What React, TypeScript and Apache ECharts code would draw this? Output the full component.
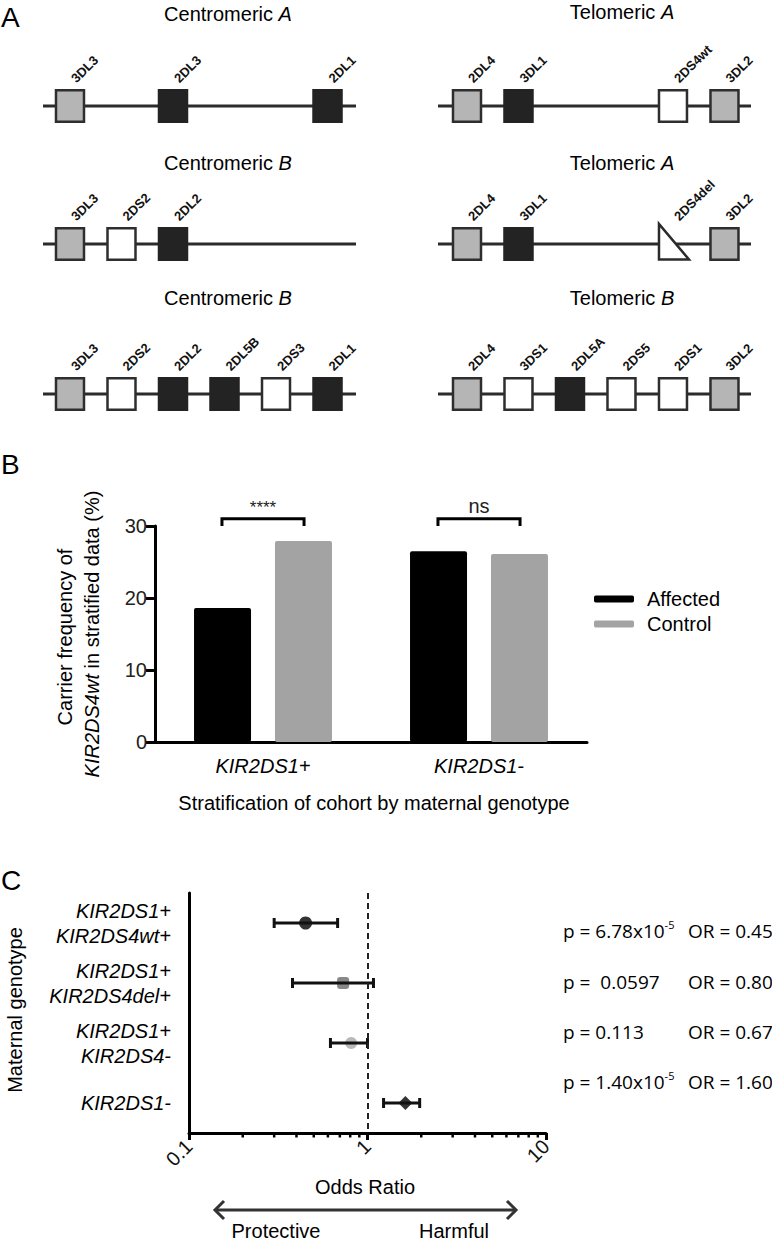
import React, { useEffect, useRef } from 'react';
import * as echarts from 'echarts';

const FONT = '"Liberation Sans", Arial, Helvetica, sans-serif';
const FONT2 = '"Open Sans", "Liberation Sans", sans-serif';

// ---------- Panel A data ----------
const cenA_genes = ['3DL3', '2DL3', '2DL1'];
const cenA_slots = [0, 2, 5];
const cenA_kinds = ['frame', 'inhib', 'inhib'];
const cenB1_genes = ['3DL3', '2DS2', '2DL2'];
const cenB1_slots = [0, 1, 2];
const cenB1_kinds = ['frame', 'act', 'inhib'];
const cenB2_genes = ['3DL3', '2DS2', '2DL2', '2DL5B', '2DS3', '2DL1'];
const cenB2_slots = [0, 1, 2, 3, 4, 5];
const cenB2_kinds = ['frame', 'act', 'inhib', 'inhib', 'act', 'inhib'];
const telA1_genes = ['2DL4', '3DL1', '2DS4wt', '3DL2'];
const telA1_slots = [0, 1, 4, 5];
const telA1_kinds = ['frame', 'inhib', 'act', 'frame'];
const telA2_genes = ['2DL4', '3DL1', '2DS4del', '3DL2'];
const telA2_slots = [0, 1, 4, 5];
const telA2_kinds = ['frame', 'inhib', 'del', 'frame'];
const telB_genes = ['2DL4', '3DS1', '2DL5A', '2DS5', '2DS1', '3DL2'];
const telB_slots = [0, 1, 2, 3, 4, 5];
const telB_kinds = ['frame', 'act', 'inhib', 'act', 'act', 'frame'];
const hapNames = ['Centromeric', 'Centromeric', 'Centromeric', 'Telomeric', 'Telomeric', 'Telomeric'];
const hapVariants = ['A', 'B', 'B', 'A', 'A', 'B'];

// ---------- Panel B data ----------
const bCategories = ['KIR2DS1+', 'KIR2DS1-'];
const affectedVals = [18.6, 26.5];
const controlVals = [27.9, 26.1];
const sigLabels = ['****', 'ns'];
const bTicks = [0, 10, 20, 30];

// ---------- Panel C data ----------
const cRows = ['KIR2DS1+\nKIR2DS4wt+', 'KIR2DS1+\nKIR2DS4del+', 'KIR2DS1+\nKIR2DS4-', 'KIR2DS1-'];
const orPoints = [0.45, 0.73, 0.81, 1.63];
const ciLow = [0.30, 0.38, 0.62, 1.23];
const ciHigh = [0.68, 1.08, 1.0, 1.96];
const orSymbols = ['circle', 'roundRect', 'circle', 'diamond'];
const orColors = ['#000000', '#6a6a6a', '#a8a8a8', '#000000'];
const orSizes = [13, 12, 12, 14];
const minorTickVals = [0.2, 0.3, 0.4, 0.5, 0.6, 0.7, 0.8, 0.9, 2, 3, 4, 5, 6, 7, 8, 9];
const pLabels = ['p = 6.78x10', 'p =  0.0597', 'p = 0.113', 'p = 1.40x10'];
const pSups = ['-5', '', '', '-5'];
const orLabels = ['OR = 0.45', 'OR = 0.80', 'OR = 0.67', 'OR = 1.60'];

// ---------- layout ----------
const rowLineY = [106, 244, 394];
const titleY = [[14, 163, 298], [12, 163, 298]];
const titleX = [228, 622];
const sideLeft = [43, 438];
const sideMin = [-0.524, -0.563];
const sideMax = [5.553, 5.515];

function txt(x: number, y: number, text: string, o: any = {}) {
  return {
    type: 'text',
    x,
    y,
    rotation: o.rotation || 0,
    z: 10,
    style: {
      text,
      fontSize: o.fontSize || 20,
      fontFamily: o.fontFamily || FONT,
      fontStyle: o.fontStyle || 'normal',
      fontWeight: o.fontWeight || 'normal',
      fill: o.fill || '#000',
      textAlign: o.align || 'center',
      align: o.align || 'center',
      textVerticalAlign: o.valign || 'middle',
      verticalAlign: o.valign || 'middle',
      rich: o.rich,
    },
  };
}

function buildOption() {
  const haps = [
    { genes: cenA_genes, slots: cenA_slots, kinds: cenA_kinds, side: 0, row: 0 },
    { genes: cenB1_genes, slots: cenB1_slots, kinds: cenB1_kinds, side: 0, row: 1 },
    { genes: cenB2_genes, slots: cenB2_slots, kinds: cenB2_kinds, side: 0, row: 2 },
    { genes: telA1_genes, slots: telA1_slots, kinds: telA1_kinds, side: 1, row: 0 },
    { genes: telA2_genes, slots: telA2_slots, kinds: telA2_kinds, side: 1, row: 1 },
    { genes: telB_genes, slots: telB_slots, kinds: telB_kinds, side: 1, row: 2 },
  ];

  const grid: any[] = [];
  const xAxis: any[] = [];
  const yAxis: any[] = [];
  const series: any[] = [];
  const graphic: any[] = [];

  haps.forEach((h, i) => {
    grid.push({ left: sideLeft[h.side], top: rowLineY[h.row] - 17, width: 313, height: 34 });
    xAxis.push({ gridIndex: i, type: 'value', min: sideMin[h.side], max: sideMax[h.side], show: false });
    yAxis.push({ gridIndex: i, type: 'value', min: 0, max: 1, show: false });
    series.push({
      type: 'custom',
      xAxisIndex: i,
      yAxisIndex: i,
      silent: true,
      z: 1,
      data: [[0, 0.5]],
      encode: { x: 0, y: 1 },
      renderItem: (params: any, api: any) => {
        const cs = params.coordSys;
        const c = api.coord([0, 0.5]);
        return {
          type: 'line',
          shape: { x1: cs.x, y1: c[1], x2: cs.x + cs.width, y2: c[1] },
          style: { stroke: '#2b2b2b', lineWidth: 3 },
        };
      },
    });
    series.push({
      type: 'custom',
      xAxisIndex: i,
      yAxisIndex: i,
      silent: true,
      z: 2,
      data: h.slots.map((s, j) => [s, 0.5, j]),
      encode: { x: 0, y: 1 },
      renderItem: (params: any, api: any) => {
        const j = api.value(2);
        const kind = h.kinds[j];
        const c = api.coord([api.value(0), api.value(1)]);
        const hh = api.size([0, 1])[1];
        const top = c[1] - hh / 2;
        const bottom = c[1] + hh / 2;
        const w = 28;
        const children: any[] = [];
        if (kind === 'del') {
          children.push({
            type: 'polygon',
            shape: { points: [[c[0] - w / 2, top - 3], [c[0] - w / 2, bottom - 1.5], [c[0] + w / 2 + 2, bottom - 1.5]] },
            style: { fill: '#fff', stroke: '#2b2b2b', lineWidth: 2.5 },
          });
        } else {
          const fill = kind === 'frame' ? '#b5b5b5' : kind === 'inhib' ? '#232323' : '#ffffff';
          const stroke = kind === 'inhib' ? '#232323' : '#2e2e2e';
          children.push({
            type: 'rect',
            shape: { x: c[0] - w / 2, y: top + 1.25, width: w, height: hh - 2.5 },
            style: { fill, stroke, lineWidth: 2.5 },
          });
        }
        children.push({
          type: 'text',
          x: c[0] + 8,
          y: top - 4,
          rotation: Math.PI / 4,
          style: {
            text: h.genes[j],
            fontSize: 13,
            fontWeight: 'bold',
            fontFamily: FONT,
            fill: '#111',
            textAlign: 'left',
            align: 'left',
            textVerticalAlign: 'bottom',
            verticalAlign: 'bottom',
          },
        });
        return { type: 'group', children };
      },
    });
    graphic.push(
      txt(titleX[h.side], titleY[h.side][h.row], `{n|${hapNames[i]} }{i|${hapVariants[i]}}`, {
        rich: {
          n: { fontSize: 20, fontFamily: FONT, fill: '#000' },
          i: { fontSize: 20, fontFamily: FONT, fontStyle: 'italic', fill: '#000' },
        },
      })
    );
  });

  // ---------- Panel B ----------
  grid.push({ left: 155, top: 526, width: 432, height: 216 });
  xAxis.push({
    gridIndex: 6,
    type: 'category',
    data: bCategories,
    axisLine: { show: true, onZero: false, lineStyle: { color: '#000', width: 3 } },
    axisTick: { alignWithLabel: true, length: 11, lineStyle: { color: '#000', width: 3 } },
    axisLabel: { fontSize: 20, fontStyle: 'italic', color: '#000', margin: 14, fontFamily: FONT },
  });
  yAxis.push({
    gridIndex: 6,
    type: 'value',
    min: bTicks[0],
    max: bTicks[bTicks.length - 1],
    interval: bTicks[1] - bTicks[0],
    axisLine: { show: true, onZero: false, lineStyle: { color: '#000', width: 3 } },
    axisTick: { show: true, length: 9, lineStyle: { color: '#000', width: 3 } },
    splitLine: { show: false },
    axisLabel: { fontSize: 20, color: '#222', margin: 8, fontFamily: FONT },
  });
  series.push({
    type: 'bar',
    name: 'Affected',
    xAxisIndex: 6,
    yAxisIndex: 6,
    data: affectedVals,
    barWidth: 57,
    barGap: '42%',
    itemStyle: { color: '#000', borderRadius: 2 },
  });
  series.push({
    type: 'bar',
    name: 'Control',
    xAxisIndex: 6,
    yAxisIndex: 6,
    data: controlVals,
    barWidth: 57,
    barGap: '42%',
    itemStyle: { color: '#a3a3a3', borderRadius: 2 },
  });
  series.push({
    type: 'custom',
    xAxisIndex: 6,
    yAxisIndex: 6,
    silent: true,
    clip: false,
    z: 5,
    data: sigLabels.map((_, k) => [k, 31, k]),
    encode: { x: 0, y: 1 },
    renderItem: (params: any, api: any) => {
      const k = api.value(2);
      const top = api.coord([api.value(0), api.value(1)]);
      const base = api.coord([api.value(0), 30]);
      const half = api.size([1, 0])[0] * 0.19;
      return {
        type: 'group',
        children: [
          {
            type: 'polyline',
            shape: { points: [[top[0] - half, base[1]], [top[0] - half, top[1]], [top[0] + half, top[1]], [top[0] + half, base[1]]] },
            style: { stroke: '#000', lineWidth: 3, fill: 'none' },
          },
          {
            type: 'text',
            x: top[0],
            y: top[1] - 3,
            style: {
              text: sigLabels[k],
              fontSize: k === 0 ? 17 : 20,
              fontFamily: FONT,
              fill: '#222',
              textAlign: 'center',
              align: 'center',
              textVerticalAlign: 'bottom',
              verticalAlign: 'bottom',
            },
          },
        ],
      };
    },
  });

  // ---------- Panel C ----------
  grid.push({ left: 189, top: 893, width: 357, height: 240 });
  xAxis.push({
    gridIndex: 7,
    type: 'log',
    logBase: 10,
    min: 0.1,
    max: 10,
    axisLine: { show: true, onZero: false, lineStyle: { color: '#000', width: 3 } },
    axisTick: { show: true, length: 7, lineStyle: { color: '#000', width: 3 } },
    axisLabel: { rotate: 45, fontSize: 20, color: '#111', margin: 10, fontFamily: FONT },
    splitLine: { show: false },
  });
  yAxis.push({
    gridIndex: 7,
    type: 'category',
    inverse: true,
    data: cRows,
    axisLine: { show: true, onZero: false, lineStyle: { color: '#000', width: 3 } },
    axisTick: { alignWithLabel: true, length: 6, lineStyle: { color: '#000', width: 3 } },
    axisLabel: { fontSize: 20, fontStyle: 'italic', lineHeight: 25, align: 'right', margin: 18, color: '#000', fontFamily: FONT },
  });
  series.push({
    type: 'custom',
    xAxisIndex: 7,
    yAxisIndex: 7,
    silent: true,
    clip: false,
    z: 4,
    data: minorTickVals.map((v) => [v, 0]),
    encode: { x: 0, y: 1 },
    renderItem: (params: any, api: any) => {
      const cs = params.coordSys;
      const p = api.coord([api.value(0), 0]);
      const yb = cs.y + cs.height;
      return { type: 'line', shape: { x1: p[0], y1: yb, x2: p[0], y2: yb + 4.5 }, style: { stroke: '#000', lineWidth: 2.5 } };
    },
  });
  series.push({
    type: 'scatter',
    xAxisIndex: 7,
    yAxisIndex: 7,
    z: 2,
    data: orPoints.map((v, k) => ({
      value: [v, k],
      symbol: orSymbols[k],
      symbolSize: orSizes[k],
      itemStyle: { color: orColors[k] },
    })),
    markLine: {
      silent: true,
      symbol: ['none', 'none'],
      label: { show: false },
      lineStyle: { type: [6, 4], color: '#222', width: 2 },
      data: [{ xAxis: 1 }],
    },
  });
  series.push({
    type: 'custom',
    xAxisIndex: 7,
    yAxisIndex: 7,
    silent: true,
    z: 3,
    data: ciLow.map((lo, k) => [lo, ciHigh[k], k]),
    encode: { x: [0, 1], y: 2 },
    renderItem: (params: any, api: any) => {
      const a = api.coord([api.value(0), api.value(2)]);
      const b = api.coord([api.value(1), api.value(2)]);
      const st = { stroke: '#111', lineWidth: 3 };
      return {
        type: 'group',
        children: [
          { type: 'line', shape: { x1: a[0], y1: a[1], x2: b[0], y2: b[1] }, style: st },
          { type: 'line', shape: { x1: a[0], y1: a[1] - 5, x2: a[0], y2: a[1] + 5 }, style: st },
          { type: 'line', shape: { x1: b[0], y1: b[1] - 5, x2: b[0], y2: b[1] + 5 }, style: st },
        ],
      };
    },
  });

  // ---------- static texts ----------
  graphic.push(txt(1, 17, 'A', { fontSize: 28, align: 'left' }));
  graphic.push(txt(1, 464, 'B', { fontSize: 28, align: 'left' }));
  graphic.push(txt(1, 880, 'C', { fontSize: 28, align: 'left' }));
  graphic.push(txt(65, 637, 'Carrier frequency of', { rotation: Math.PI / 2 }));
  graphic.push(
    txt(92, 634, '{i|KIR2DS4wt}{n| in stratified data (%)}', {
      rotation: Math.PI / 2,
      rich: {
        i: { fontSize: 20, fontStyle: 'italic', fontFamily: FONT, fill: '#000' },
        n: { fontSize: 20, fontFamily: FONT, fill: '#000' },
      },
    })
  );
  graphic.push(txt(374, 803, 'Stratification of cohort by maternal genotype'));
  graphic.push(txt(15, 1010, 'Maternal genotype', { rotation: Math.PI / 2 }));
  graphic.push(txt(365, 1187, 'Odds Ratio'));
  graphic.push(txt(276, 1231, 'Protective'));
  graphic.push(txt(454, 1231, 'Harmful'));
  const arrowStyle = { stroke: '#333', lineWidth: 3, fill: 'none' };
  graphic.push({ type: 'line', shape: { x1: 215, y1: 1210, x2: 516, y2: 1210 }, style: arrowStyle });
  graphic.push({ type: 'polyline', shape: { points: [[224, 1201], [215, 1210], [224, 1219]] }, style: arrowStyle });
  graphic.push({ type: 'polyline', shape: { points: [[507, 1201], [516, 1210], [507, 1219]] }, style: arrowStyle });

  const pRowY = [931, 982, 1032, 1082];
  pLabels.forEach((p, k) => {
    graphic.push(
      txt(563, pRowY[k], pSups[k] ? `{b|${p}}{s|${pSups[k]}}` : `{b|${p}}`, {
        align: 'left',
        rich: {
          b: { fontSize: 19, fontFamily: FONT2, fill: '#000', lineHeight: 24 },
          s: { fontSize: 11, fontFamily: FONT2, fill: '#000', verticalAlign: 'top', lineHeight: 12 },
        },
      })
    );
    graphic.push(txt(688, pRowY[k], orLabels[k], { align: 'left', fontSize: 19, fontFamily: FONT2 }));
  });

  return {
    animation: false,
    backgroundColor: '#ffffff',
    textStyle: { fontFamily: FONT },
    grid,
    xAxis,
    yAxis,
    legend: {
      data: ['Affected', 'Control'],
      orient: 'vertical',
      left: 589,
      top: 584,
      itemWidth: 40,
      itemHeight: 7,
      itemGap: 5,
      icon: 'roundRect',
      textStyle: { fontSize: 20, color: '#000', fontFamily: FONT, padding: [0, 0, 0, 8] },
    },
    series,
    graphic,
  };
}

export default function App() {
  const ref = useRef<HTMLDivElement>(null);
  useEffect(() => {
    const chart = echarts.init(ref.current!, null, { renderer: 'svg' });
    chart.setOption(buildOption() as any);
    return () => chart.dispose();
  }, []);
  return (
    <div
      ref={ref}
      style={{ position: 'absolute', left: 0, top: 0, width: 772, height: 1242, background: '#fff' }}
    />
  );
}
